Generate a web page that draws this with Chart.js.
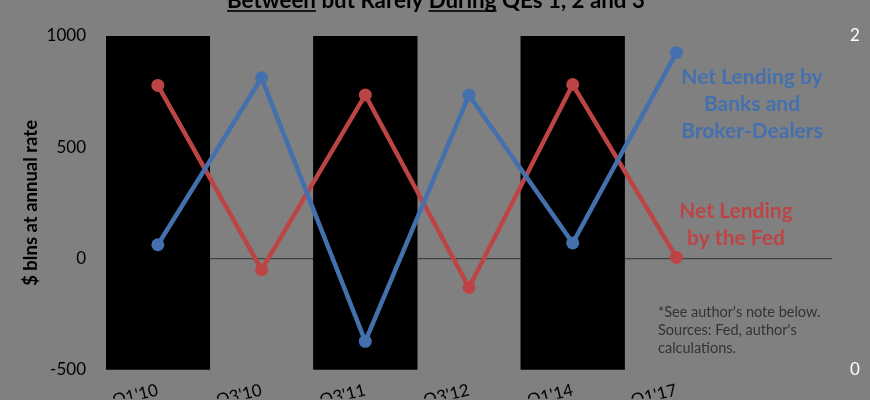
<!DOCTYPE html>
<html>
<head>
<meta charset="utf-8">
<script src="https://cdn.jsdelivr.net/npm/chart.js@4.4.1/dist/chart.umd.min.js"></script>
<style>
html,body{margin:0;padding:0;background:#808080;overflow:hidden;}
#wrap{width:870px;height:400px;position:relative;}
</style>
</head>
<body>
<div id="wrap"><canvas id="c" width="870" height="400"></canvas></div>
<script>
const categories = ["Q1'10", "Q3'10", "Q3'11", "Q3'12", "Q1'14", "Q1'17", ""];
const fedLending = [778, -50, 735, -130, 782, 5, null];
const bankLending = [62, 812, -372, 734, 70, 925, null];
const qePeriods = [2, null, 2, null, 2, null, null];
const leftTicks = [-500, 0, 500, 1000];
const rightTicks = [0, 2];

const FONT = 'Lato, "Open Sans", sans-serif';
const BLUE = '#4470ae';
const RED = '#bd4444';

const bgPlugin = {
  id: 'bg',
  beforeDraw(chart) {
    const ctx = chart.ctx;
    ctx.save();
    ctx.fillStyle = '#808080';
    ctx.fillRect(0, 0, chart.width, chart.height);
    ctx.restore();
  }
};

const textPlugin = {
  id: 'texts',
  afterDraw(chart) {
    const ctx = chart.ctx;
    ctx.save();
    // Title (partially cut off at the top)
    const parts = [
      {t: 'Between', u: true},
      {t: ' but Rarely ', u: false},
      {t: 'During', u: true},
      {t: ' QEs 1, 2 and 3', u: false}
    ];
    let size = 22;
    ctx.font = 'bold ' + size + 'px ' + FONT;
    let full = parts.map(p => p.t).join('');
    let w = ctx.measureText(full).width;
    size = size * 418 / w;
    ctx.font = 'bold ' + size + 'px ' + FONT;
    w = ctx.measureText(full).width;
    let x = 436 - w / 2;
    const base = 8;
    ctx.fillStyle = '#000';
    ctx.textBaseline = 'alphabetic';
    ctx.textAlign = 'left';
    parts.forEach(p => {
      const pw = ctx.measureText(p.t).width;
      ctx.fillText(p.t, x, base);
      if (p.u) {
        ctx.fillRect(x, base + 2.2, pw, 1.6);
      }
      x += pw;
    });

    // Series labels
    ctx.textAlign = 'center';
    ctx.textBaseline = 'middle';
    ctx.font = 'bold 21px ' + FONT;
    ctx.fillStyle = BLUE;
    ['Net Lending by', 'Banks and', 'Broker-Dealers'].forEach((s, i) => {
      ctx.fillText(s, 752, 77 + i * 27);
    });
    ctx.fillStyle = RED;
    ['Net Lending', 'by the Fed'].forEach((s, i) => {
      ctx.fillText(s, 736, 211 + i * 27);
    });

    // Footnote
    ctx.textAlign = 'left';
    ctx.font = '14.5px ' + FONT;
    ctx.fillStyle = '#333333';
    ["*See author's note below.", "Sources: Fed, author's", 'calculations.'].forEach((s, i) => {
      ctx.fillText(s, 658, 312 + i * 18);
    });
    ctx.restore();
  }
};

new Chart(document.getElementById('c'), {
  data: {
    labels: categories,
    datasets: [
      {
        type: 'line',
        label: 'Net Lending by the Fed',
        data: fedLending,
        yAxisID: 'y',
        borderColor: RED,
        backgroundColor: RED,
        borderWidth: 4.5,
        pointRadius: 6.5,
        pointHoverRadius: 6.5,
        pointBorderWidth: 0,
        tension: 0,
        order: 2
      },
      {
        type: 'line',
        label: 'Net Lending by Banks and Broker-Dealers',
        data: bankLending,
        yAxisID: 'y',
        borderColor: BLUE,
        backgroundColor: BLUE,
        borderWidth: 4.5,
        pointRadius: 6.5,
        pointHoverRadius: 6.5,
        pointBorderWidth: 0,
        tension: 0,
        order: 1
      },
      {
        type: 'bar',
        label: 'QE',
        data: qePeriods,
        yAxisID: 'y2',
        backgroundColor: '#000000',
        borderWidth: 0,
        barPercentage: 1,
        categoryPercentage: 1,
        order: 3
      }
    ]
  },
  options: {
    responsive: false,
    animation: false,
    events: [],
    layout: {padding: {top: 36, left: 0, right: 0, bottom: 0}},
    plugins: {
      legend: {display: false},
      title: {display: false},
      tooltip: {enabled: false}
    },
    scales: {
      x: {
        type: 'category',
        grid: {display: false, drawTicks: false},
        border: {display: false},
        ticks: {
          color: '#000',
          font: {family: FONT, size: 17},
          autoSkip: false,
          maxRotation: 14,
          minRotation: 14,
          padding: 10
        },
        afterFit(s) { s.height = 29; }
      },
      y: {
        position: 'left',
        min: -500,
        max: 1000,
        afterBuildTicks(s) { s.ticks = leftTicks.map(v => ({value: v})); },
        grid: {
          drawTicks: false,
          color: c => (c.tick && c.tick.value === 0) ? '#404040' : 'rgba(0,0,0,0)',
          lineWidth: 1.2
        },
        border: {display: false},
        ticks: {
          color: '#000',
          font: {family: FONT, size: 17},
          padding: 20,
          callback: v => String(v)
        },
        title: {
          display: true,
          text: '$ blns at annual rate',
          color: '#000',
          font: {family: FONT, size: 18.5, weight: 'bold'},
          padding: {top: 20, bottom: 0}
        },
        afterFit(s) { s.width = 106; }
      },
      y2: {
        position: 'right',
        min: 0,
        max: 2,
        afterBuildTicks(s) { s.ticks = rightTicks.map(v => ({value: v})); },
        grid: {display: false, drawTicks: false},
        border: {display: false},
        ticks: {
          color: '#ffffff',
          font: {family: FONT, size: 17},
          padding: 18
        },
        afterFit(s) { s.width = 38; }
      }
    }
  },
  plugins: [bgPlugin, textPlugin]
});
</script>
</body>
</html>
